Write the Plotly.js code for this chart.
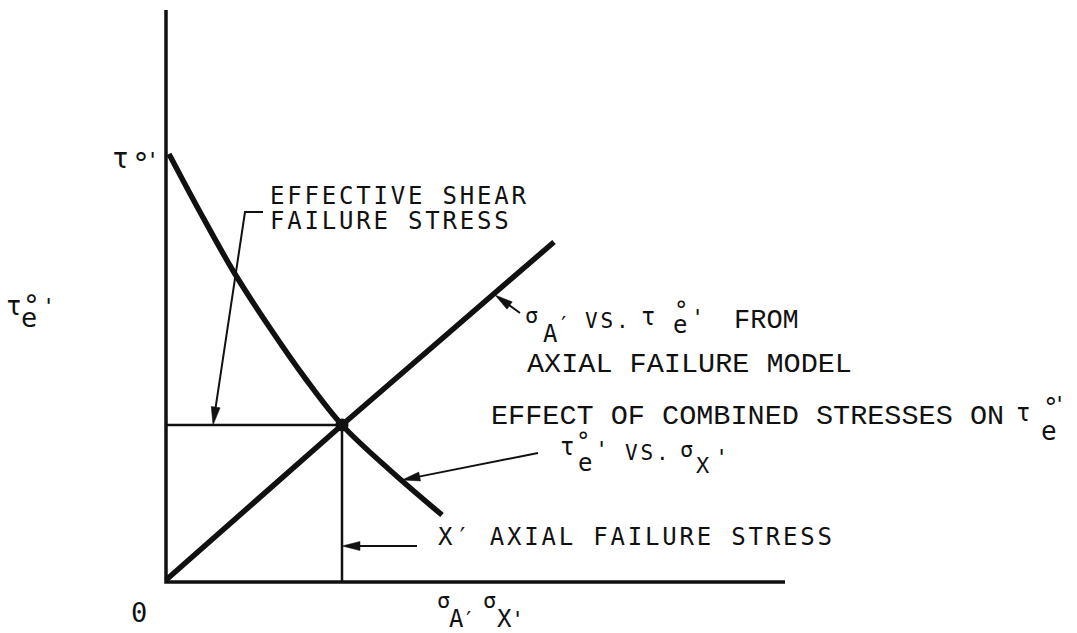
<!DOCTYPE html>
<html><head><meta charset="utf-8">
<script src="https://cdn.plot.ly/plotly-3.0.1.min.js"></script>
<style>
html,body{margin:0;padding:0;background:#fff;}
#chart{width:1077px;height:633px;}
text.annotation-text[style*="DejaVu"]{letter-spacing:2.8px;}
</style></head><body><div id="chart"></div>
<script>
// ---- data (schematic units, origin at the axes corner) ----
const axisX = [0, 0, 619];
const axisY = [572, 0, 0];
// tau_e°' vs sigma_X' : effect of combined stresses
const combX = [3, 34, 69, 104, 139, 176, 226, 276];
const combY = [428, 370, 308, 254, 204, 157, 110, 67];
// sigma_A' vs tau_e°' from axial failure model
const axialX = [0, 176, 388];
const axialY = [2, 157, 340];
// failure point (intersection)
const failX = [176];
const failY = [157];
// leader lines: [x...], [y...]; last point is the arrow tip
const leaderShearX = [97, 79, 47];
const leaderShearY = [370, 370, 157];
const leaderAxialX = [354, 329];
const leaderAxialY = [269, 287];
const leaderCombX = [372, 236];
const leaderCombY = [129, 102];
const leaderXpX = [251, 176];
const leaderXpY = [36, 36];

const W = 1077, H = 633;
const SANS = 'DejaVu Sans Mono', SERIF = 'Liberation Mono';
const BLACK = '#111';

const traces = [];
const shapes = [];
function line(xs, ys, w, shape) {
  traces.push({x: xs, y: ys, type: 'scatter', mode: 'lines', hoverinfo: 'skip',
    line: {color: BLACK, width: w, shape: shape || 'linear', smoothing: 1}, showlegend: false});
}
line(axisX, axisY, 3.5);
line(combX, combY, 5.5, 'spline');
line(axialX, axialY, 5.5);
line([0, failX[0]], [failY[0], failY[0]], 2.5);
line([failX[0], failX[0]], [failY[0], 0], 2.5);
traces.push({x: failX, y: failY, type: 'scatter', mode: 'markers', hoverinfo: 'skip',
  marker: {color: BLACK, size: 13}, showlegend: false});

function leader(xs, ys) {
  const n = xs.length;
  const tx = xs[n-1], ty = ys[n-1], px = xs[n-2], py = ys[n-2];
  let dx = tx - px, dy = ty - py; const d = Math.hypot(dx, dy); dx /= d; dy /= d;
  const L = 18, hw = 4.5;
  const bx = tx - L*dx, by = ty - L*dy;
  const shaftX = xs.slice(0, n-1).concat([bx + 2*dx]);
  const shaftY = ys.slice(0, n-1).concat([by + 2*dy]);
  line(shaftX, shaftY, 2);
  const c1x = bx - hw*dy, c1y = by + hw*dx, c2x = bx + hw*dy, c2y = by - hw*dx;
  shapes.push({type: 'path', xref: 'x', yref: 'y', fillcolor: BLACK, line: {width: 0.5, color: BLACK},
    path: `M${tx},${ty} L${c1x},${c1y} L${c2x},${c2y} Z`});
}
leader(leaderShearX, leaderShearY);
leader(leaderAxialX, leaderAxialY);
leader(leaderCombX, leaderCombY);
leader(leaderXpX, leaderXpY);

// ---- text ----
const ann = [];
const OFF = {x: -0.075, cap: 0, hi: 0.26};
function T(t, px, py, size, fam, kind, xa) {
  const dy = (OFF[kind || 'cap']) * size;
  ann.push({xref: 'paper', yref: 'paper', x: px / W, y: 1 - (py + dy) / H,
    xanchor: xa || 'left', yanchor: 'middle', text: t, showarrow: false,
    borderpad: 0, borderwidth: 0, font: {family: fam, size: size, color: BLACK}});
}
function C(t, cx, cy, size, fam, kind) { T(t, cx, cy, size, fam, kind, 'center'); }

T('EFFECTIVE SHEAR', 270, 196, 24, SANS);
T('FAILURE STRESS', 270, 221, 24, SANS);
T('X′ AXIAL FAILURE STRESS', 438, 537, 24, SANS);
C('0', 140, 612, 27, SANS);

// x axis title
C('σ', 445, 602.5, 22, SANS, 'x');
C('A', 457.5, 618.5, 24, SANS);
C('′', 470, 613.5, 22, SANS, 'hi');
C('σ', 491, 602.5, 22, SANS, 'x');
C('X', 505.5, 618.5, 24, SANS);
C("'", 518.5, 613.5, 22, SANS, 'hi');

// y axis title
C('τ', 15, 307.5, 26, SANS, 'x');
C('e', 30, 319.5, 27, SANS, 'x');
C('°', 33, 298, 28, SANS, 'hi');
C("'", 50, 301, 22, SANS, 'hi');

// tau°' label
C('τ', 121.5, 161, 28, SANS, 'x');
C('°', 142, 156, 30, SANS, 'hi');
C("'", 153.5, 155, 22, SANS, 'hi');

// sigma_A' vs tau_e°' FROM
C('σ', 532.5, 317, 22, SANS, 'x');
C('A', 551.5, 333.5, 24, SANS);
C('′', 565, 318.5, 22, SANS, 'hi');
T('VS.', 585, 320.5, 21, SANS);
C('τ', 649, 319, 24, SANS, 'x');
C('e', 681, 326.5, 24, SANS, 'x');
C('°', 682, 305, 24, SANS, 'hi');
C("'", 698.5, 312, 22, SANS, 'hi');
T('FROM', 734, 320.5, 27, SERIF);
T('AXIAL FAILURE MODEL', 527, 364.5, 28.5, SERIF);

T('EFFECT OF COMBINED STRESSES ON', 491, 416, 28.5, SERIF);
C('τ', 1024, 415, 24, SANS, 'x');
C('e', 1050, 432.5, 26, SANS, 'x');
C('°', 1052, 401, 26, SANS, 'hi');
C("'", 1061, 399, 22, SANS, 'hi');

C('τ', 568, 449, 24, SANS, 'x');
C('°', 584, 436, 24, SANS, 'hi');
C('e', 586, 465, 24, SANS, 'x');
C("'", 602.5, 444, 22, SANS, 'hi');
T('VS.', 625, 452.5, 21, SANS);
C('σ', 688, 451, 22, SANS, 'x');
C('X', 704, 465, 22, SANS);
C("'", 722.5, 452, 22, SANS, 'hi');

const layout = {
  width: W, height: H, margin: {l: 0, r: 0, t: 0, b: 0},
  paper_bgcolor: '#fff', plot_bgcolor: '#fff', showlegend: false,
  xaxis: {range: [-166, W - 166], visible: false, fixedrange: true},
  yaxis: {range: [582 - H, 582], visible: false, fixedrange: true},
  shapes: shapes, annotations: ann
};
Plotly.newPlot('chart', traces, layout, {staticPlot: true, displayModeBar: false});
</script></body></html>
